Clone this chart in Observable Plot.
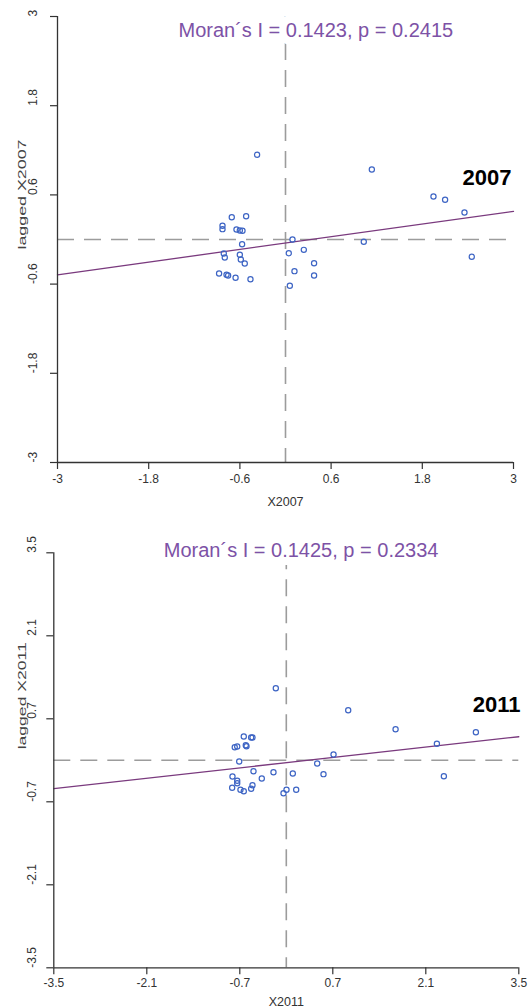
<!DOCTYPE html>
<html><head><meta charset="utf-8">
<script src="https://cdn.jsdelivr.net/npm/d3@7"></script>
<script src="https://cdn.jsdelivr.net/npm/@observablehq/plot@0.6"></script>
<style>
body{margin:0;background:#fff;}
#chart svg{display:block;}
</style></head><body><div id="chart"></div>
<script>
// ---- data ----
const x2007   = [-0.374,-0.707,-0.518,-0.829,-0.829,-0.645,-0.601,-0.566,-0.571,0.092,0.241,0.043,-0.812,-0.799,-0.601,-0.588,-0.536,0.376,0.118,0.376,-0.874,-0.776,-0.755,-0.657,-0.461,0.057,1.136,1.947,2.100,2.355,1.030,2.451];
const lag2007 = [1.140,0.300,0.313,0.184,0.139,0.135,0.121,0.117,-0.063,0.000,-0.139,-0.185,-0.188,-0.242,-0.206,-0.269,-0.323,-0.319,-0.426,-0.484,-0.457,-0.475,-0.484,-0.515,-0.534,-0.623,0.942,0.578,0.534,0.363,-0.031,-0.233];
const x2011   = [-0.158,0.932,-0.640,-0.529,-0.509,-0.776,-0.739,-0.610,-0.599,-0.709,0.711,0.465,-0.494,-0.193,0.098,0.560,-0.369,-0.810,-0.739,-0.739,-0.509,-0.815,-0.690,-0.640,-0.529,0.003,-0.042,0.149,1.645,2.267,2.854,2.372];
const lag2011 = [1.216,0.845,0.401,0.384,0.384,0.221,0.233,0.255,0.238,-0.020,0.098,-0.054,-0.184,-0.201,-0.223,-0.234,-0.307,-0.273,-0.346,-0.386,-0.420,-0.464,-0.497,-0.521,-0.481,-0.497,-0.555,-0.497,0.524,0.278,0.474,-0.268];
const ticks2007 = [-3,-1.8,-0.6,0.6,1.8,3];
const ticks2011 = [-3.5,-2.1,-0.7,0.7,2.1,3.5];
const years = ["2007","2011"];
const moranI = [0.1423, 0.1425];
const pValues = [0.2415, 0.2334];
const fitSlope = [0.1423, 0.125];
const fitIntercept = [-0.048, -0.04];
const xMeans = [0, 0];
const lagMeans = [0, 0];

const FONT = "'Liberation Sans', Arial, sans-serif";

function panel(o) {
  const pts = o.xs.map((x, i) => ({x, y: o.ys[i]}));
  const dom = [o.ticks[0], o.ticks[o.ticks.length - 1]];
  const fit = dom.map(x => ({x, y: o.intercept + o.slope * x}));
  const title = `Moran\u00B4s I = ${o.I.toFixed(4)}, p = ${o.p.toFixed(4)}`;
  const ylab = "lagged X" + o.year;
  const svg = Plot.plot({
    width: 529, height: o.height,
    marginTop: o.mt, marginBottom: o.mb, marginLeft: o.ml, marginRight: o.mr,
    style: {fontFamily: FONT, color: "#333", background: "white", overflow: "visible"},
    x: {domain: dom, axis: null},
    y: {domain: dom, axis: null},
    marks: [
      Plot.ruleX([o.xMean], {stroke: "#9c9c9c", strokeWidth: 1.6, strokeDasharray: "17,10"}),
      Plot.ruleY([o.lagMean], {stroke: "#9c9c9c", strokeWidth: 1.6, strokeDasharray: "17,10"}),
      Plot.line(fit, {x: "x", y: "y", stroke: "#7a3a7e", strokeWidth: 1.3}),
      Plot.dot(pts, {x: "x", y: "y", r: 2.6, stroke: "#3d64c4", strokeWidth: 1.2, fill: "none"}),
      Plot.ruleX([dom[0]], {stroke: "#333", strokeWidth: 1.3}),
      Plot.ruleY([dom[0]], {stroke: "#333", strokeWidth: 1.3}),
      Plot.axisX({ticks: o.ticks, tickSize: 7, tickPadding: o.tp, tickFormat: d => String(d), fontSize: 12, label: null, strokeWidth: 1.2}),
      Plot.axisY({ticks: o.ticks, tickSize: 7, tickFormat: () => "", label: null, strokeWidth: 1.2}),
      Plot.text(o.ticks, {y: d => d, text: d => String(d), frameAnchor: "left", dx: o.ytdx, rotate: -90, fontSize: 12, fill: "#333"}),
      Plot.text([ylab], {text: d => d, frameAnchor: "left", dx: o.yldx, dy: o.yldy, rotate: -90, fontSize: 10, fill: "#444"}),
      Plot.text(["X" + o.year], {text: d => d, frameAnchor: "bottom", dy: o.xldy, lineAnchor: "top", fontSize: 12.5, fill: "#333"}),
      Plot.text([title], {text: d => d, frameAnchor: "top-left", dx: o.tdx, dy: o.tdy, textAnchor: "start", lineAnchor: "bottom", fontSize: 20, fill: "#7d52a6", stroke: "white", strokeWidth: 16, strokeLinejoin: "round", paintOrder: "stroke"}),
      Plot.text([o.year], {text: d => d, frameAnchor: "top-right", dx: o.ydx, dy: o.ydy, textAnchor: "end", lineAnchor: "bottom", fontSize: 22, fontWeight: "bold", fill: "#000"})
    ]
  });
  d3.select(svg).selectAll("text").filter(function() { return this.textContent === ylab; })
    .attr("textLength", o.ylen).attr("lengthAdjust", "spacingAndGlyphs");
  return svg;
}

const chart = document.getElementById("chart");
chart.appendChild(panel({
  xs: x2007, ys: lag2007, ticks: ticks2007, year: years[0],
  slope: fitSlope[0], intercept: fitIntercept[0], I: moranI[0], p: pValues[0],
  xMean: xMeans[0], lagMean: lagMeans[0],
  height: 512, mt: 16, mb: 50, ml: 57, mr: 16, tp: 5,
  ytdx: -24, yldx: -35, yldy: 10, ylen: 110, xldy: 34.7,
  tdx: 121, tdy: 20.7, ydx: -2, ydy: 168
}));
chart.appendChild(panel({
  xs: x2011, ys: lag2011, ticks: ticks2011, year: years[1],
  slope: fitSlope[1], intercept: fitIntercept[1], I: moranI[1], p: pValues[1],
  xMean: xMeans[1], lagMean: lagMeans[1],
  height: 496, mt: 40.3, mb: 40.7, ml: 53.3, mr: 10.7, tp: 4,
  ytdx: -21.6, yldx: -31, yldy: -11, ylen: 107, xldy: 29.4,
  tdx: 110, tdy: 4.4, ydx: 1.7, ydy: 158.7
}));
</script></body></html>
